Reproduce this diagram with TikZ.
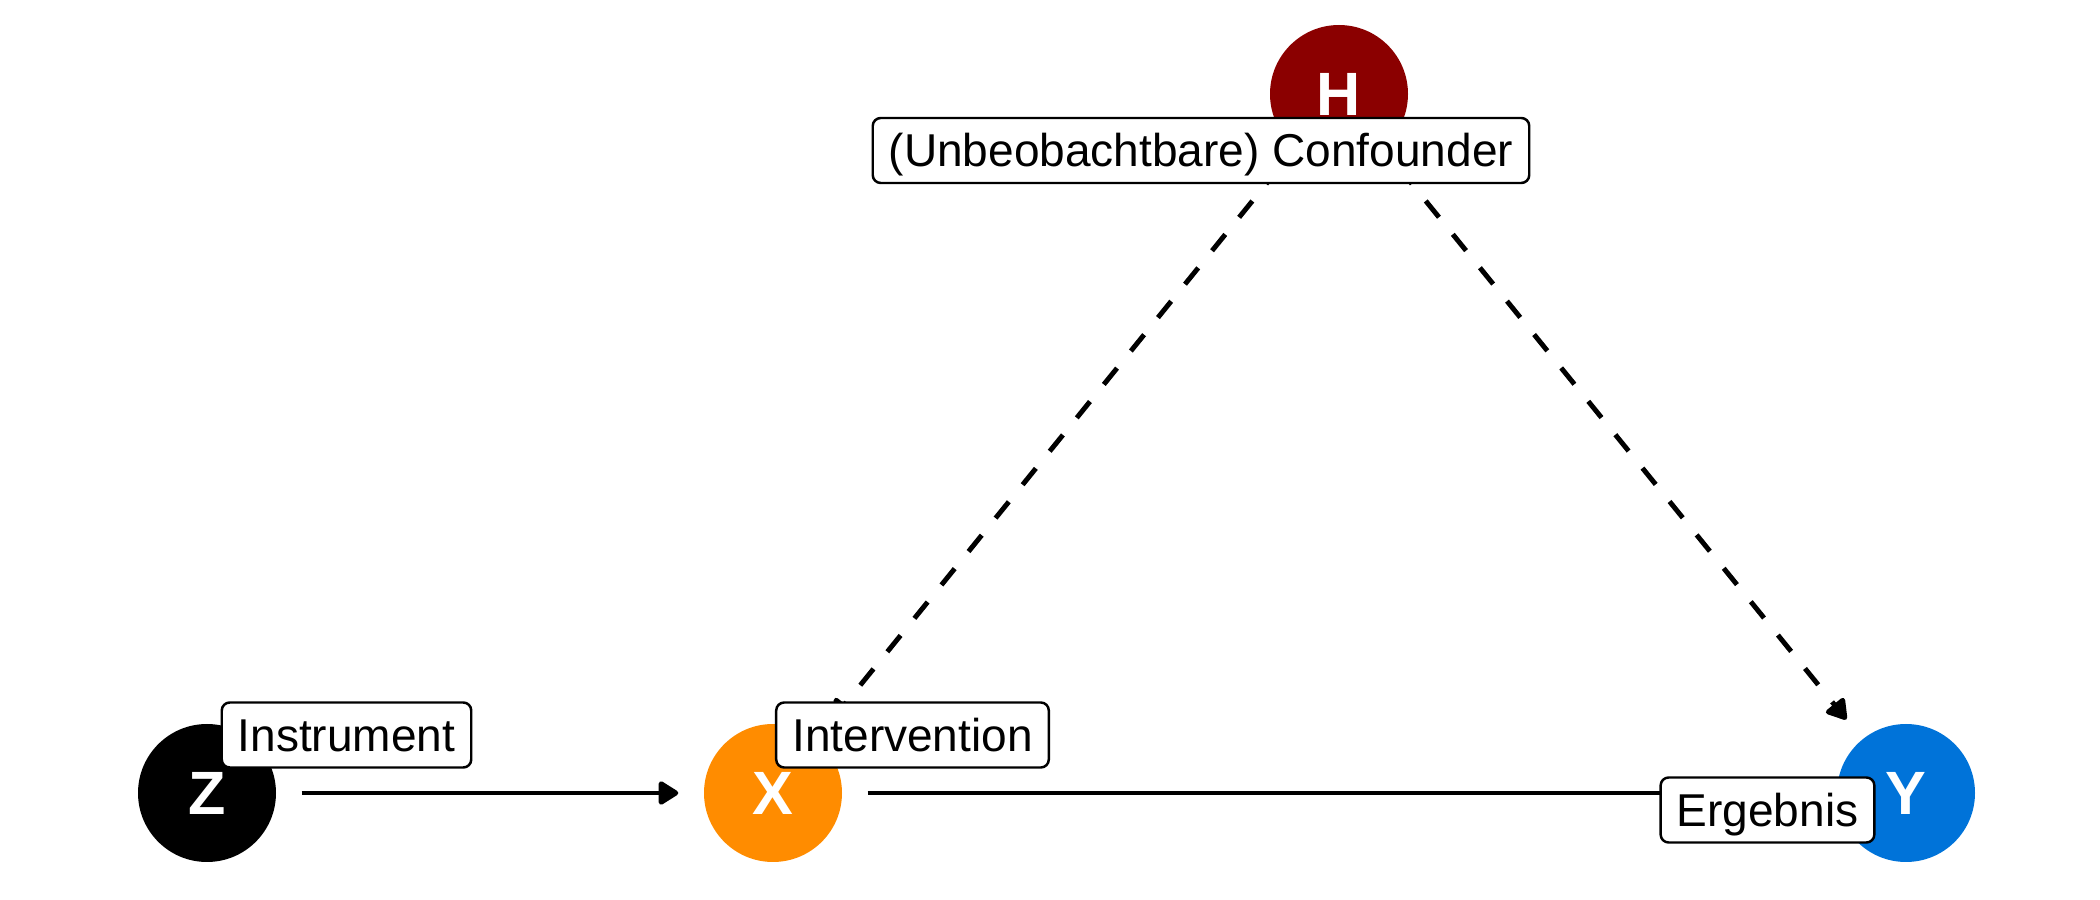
\documentclass[tikz,border=0pt]{standalone}
\usepackage{fontspec}
\setmainfont{Liberation Sans}
\usetikzlibrary{arrows.meta}
\definecolor{hred}{HTML}{8B0000}
\definecolor{xorange}{HTML}{FF8C00}
\definecolor{yblue}{HTML}{0073D9}
\tikzset{
  var/.style={circle, minimum size=1.38cm, inner sep=0pt, text=white, font=\fontsize{17.4}{18}\selectfont\bfseries},
  tag/.style={rectangle, rounded corners=0.08cm, draw=black, line width=0.7pt, fill=white, inner xsep=0.16cm, inner ysep=0.14cm, text height=0.35cm, text depth=0.02cm, font=\fontsize{13.1}{15}\selectfont},
  edge/.style={line width=1.4pt, -{Triangle[length=0.22cm, width=0.26cm, round]}, shorten >=0.25cm, shorten <=0.25cm},
}
\begin{document}
\begin{tikzpicture}
\useasboundingbox (0,0) rectangle (21,9);

\node (Z) [var, fill=black] at (2.07,1.07) {Z};
\node (X) [var, fill=xorange] at (7.73,1.07) {X};
\node (Y) [var, fill=yblue] at (19.06,1.07) {Y};
\node (H) [var, fill=hred] at (13.39,8.06) {H};

\draw[edge] (Z) -- (X);
\draw[edge] (X) -- (Y);
\draw[edge, dash pattern=on 0.21cm off 0.22cm] (H) -- (X);
\draw[edge, dash pattern=on 0.21cm off 0.22cm] (H) -- (Y);

\node (instrument) [tag] at (3.465,1.65) {Instrument};
\node (intervention) [tag] at (9.125,1.65) {Intervention};
\node (ergebnis) [tag] at (17.675,0.90) {Ergebnis};
\node (confounder) [tag] at (12.01,7.495) {(Unbeobachtbare) Confounder};

\end{tikzpicture}
\end{document}
